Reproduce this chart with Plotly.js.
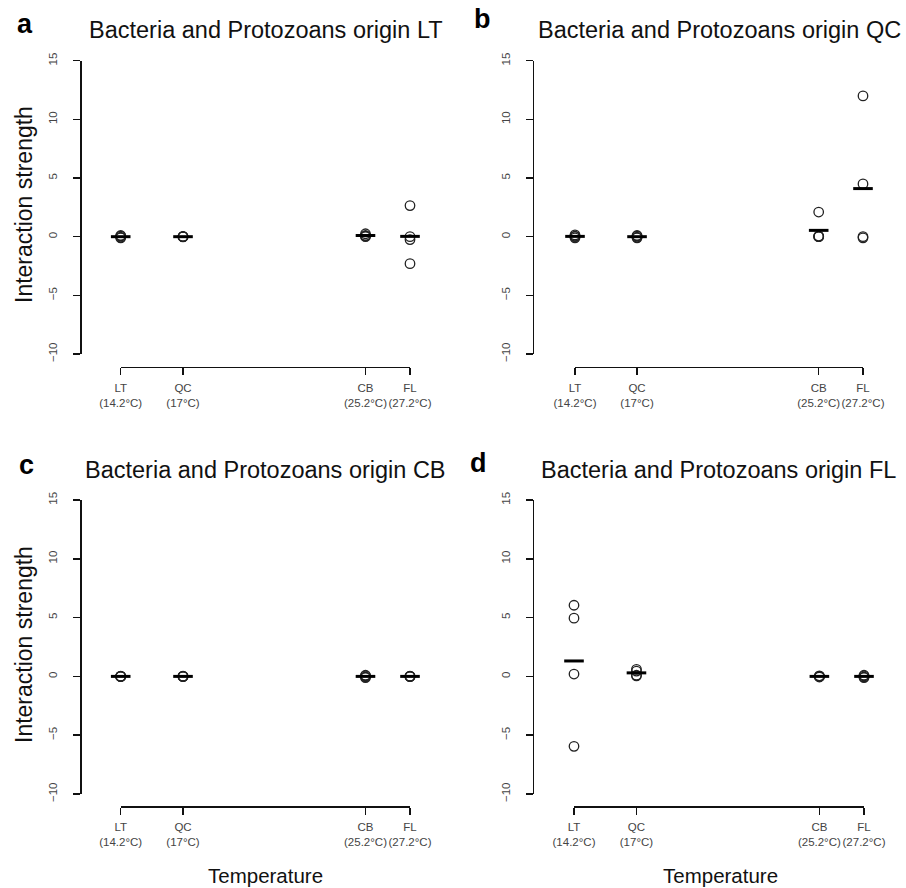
<!DOCTYPE html>
<html>
<head>
<meta charset="utf-8">
<script src="https://cdn.plot.ly/plotly-3.0.1.min.js"></script>
<style>html,body{margin:0;padding:0;background:#fff;}</style>
</head>
<body>
<div id="chart" style="width:906px;height:888px;"></div>
<script>
// Sites (x-axis categories) and their temperatures
const sites = ["LT", "QC", "CB", "FL"];
const temps = [14.2, 17, 25.2, 27.2];
const tickLabels = ["LT<br>(14.2°C)", "QC<br>(17°C)", "CB<br>(25.2°C)", "FL<br>(27.2°C)"];

// Interaction strength replicates per temperature (LT, QC, CB, FL), one array per panel
const originLT_LT = [0.05, -0.05, 0.1, -0.1];
const originLT_QC = [0.02, 0, -0.02, 0];
const originLT_CB = [0.25, 0.1, 0.0, 0.05];
const originLT_FL = [2.65, -0.25, 0.0, -2.3];

const originQC_LT = [0.15, 0.0, -0.1, 0.05];
const originQC_QC = [0.05, -0.05, 0.1, -0.1];
const originQC_CB = [2.1, 0.0, 0.05, 0.0];
const originQC_FL = [12.0, 4.5, 0.0, -0.1];

const originCB_LT = [0.02, 0, -0.02, 0];
const originCB_QC = [0.02, 0, -0.02, 0];
const originCB_CB = [0.05, -0.05, 0.1, -0.1];
const originCB_FL = [0.02, 0, -0.02, 0];

const originFL_LT = [6.05, 4.95, 0.2, -5.95];
const originFL_QC = [0.6, 0.45, 0.1, 0.05];
const originFL_CB = [0.0, -0.05, 0.05, 0.0];
const originFL_FL = [0.05, -0.05, 0.1, -0.1];

const panels = [
  {title: "Bacteria and Protozoans origin LT", data: [originLT_LT, originLT_QC, originLT_CB, originLT_FL]},
  {title: "Bacteria and Protozoans origin QC", data: [originQC_LT, originQC_QC, originQC_CB, originQC_FL]},
  {title: "Bacteria and Protozoans origin CB", data: [originCB_LT, originCB_QC, originCB_CB, originCB_FL]},
  {title: "Bacteria and Protozoans origin FL", data: [originFL_LT, originFL_QC, originFL_CB, originFL_FL]}
];

const W = 906, H = 888;
const px = v => v / W;
const py = v => 1 - v / H;

// geometry (pixels)
const geo = [
  {x0: 120.7, x1: 410, yTop: 60.7, yBot: 354, xLine: 366.7, yLine: 80},
  {x0: 575, x1: 863, yTop: 60.7, yBot: 354, xLine: 366.7, yLine: 532.7},
  {x0: 120.7, x1: 410, yTop: 500, yBot: 794, xLine: 806, yLine: 80},
  {x0: 574, x1: 864, yTop: 500, yBot: 794, xLine: 806, yLine: 532.7}
];

const traces = [];
const layout = {
  width: W, height: H,
  margin: {l: 0, r: 0, t: 0, b: 0},
  paper_bgcolor: "#fff", plot_bgcolor: "rgba(0,0,0,0)",
  showlegend: false,
  font: {family: "Liberation Sans, Arial, sans-serif", color: "#111"},
  annotations: []
};

panels.forEach((p, i) => {
  const n = i === 0 ? "" : String(i + 1);
  const xa = "x" + n, ya = "y" + n;
  const xs = [], ys = [], mx = [], my = [];
  p.data.forEach((vals, j) => {
    vals.forEach(v => { xs.push(temps[j]); ys.push(v); });
    mx.push(temps[j]);
    my.push(vals.reduce((a, b) => a + b, 0) / vals.length);
  });
  traces.push({
    type: "scatter", mode: "markers", x: xs, y: ys, xaxis: xa, yaxis: ya,
    cliponaxis: false, hoverinfo: "x+y",
    marker: {symbol: "circle-open", size: 9.5, color: "#222", line: {width: 1.3, color: "#222"}}
  });
  traces.push({
    type: "scatter", mode: "markers", x: mx, y: my, xaxis: xa, yaxis: ya,
    cliponaxis: false, hoverinfo: "x+y",
    marker: {symbol: "line-ew", size: 14, color: "#000", line: {width: 3, color: "#000"}}
  });
  const g = geo[i];
  layout["xaxis" + n] = {
    domain: [px(g.x0), px(g.x1)],
    range: [temps[0], temps[temps.length - 1]],
    anchor: "free", position: py(g.xLine),
    tickmode: "array", tickvals: temps, ticktext: tickLabels,
    showline: true, linecolor: "#111", linewidth: 1.5,
    ticks: "outside", ticklen: 7, tickwidth: 1.5, tickcolor: "#111",
    tickfont: {size: 11.5, color: "#444"}, tickangle: 0, ticklabelstandoff: 3,
    showgrid: false, zeroline: false, fixedrange: true
  };
  layout["yaxis" + n] = {
    domain: [py(g.yBot), py(g.yTop)],
    range: [-10, 15],
    anchor: "free", position: px(g.yLine),
    tickmode: "array", tickvals: [-10, -5, 0, 5, 10, 15], ticktext: ["\u221210", "\u22125", "0", "5", "10", "15"],
    showline: true, linecolor: "#111", linewidth: 1.5,
    ticks: "outside", ticklen: 7, tickwidth: 1.5, tickcolor: "#111",
    tickfont: {size: 11.5, color: "#444"}, tickangle: -90, ticklabelstandoff: 11,
    showgrid: false, zeroline: false, fixedrange: true
  };
});

// Panel titles
const titlePos = [[265.5, 30], [719.5, 30], [265, 470], [718, 470]];
panels.forEach((p, i) => {
  layout.annotations.push({
    xref: "paper", yref: "paper", x: px(titlePos[i][0]), y: py(titlePos[i][1]),
    xanchor: "center", yanchor: "middle", showarrow: false,
    text: p.title, font: {size: 23.5, color: "#111"}
  });
});
// Panel letters
const letters = [["a", 25, 24], ["b", 483, 19], ["c", 26, 465], ["d", 478, 463]];
letters.forEach(l => {
  layout.annotations.push({
    xref: "paper", yref: "paper", x: px(l[1]), y: py(l[2]),
    xanchor: "center", yanchor: "middle", showarrow: false,
    text: "<b>" + l[0] + "</b>", font: {size: 27, color: "#000"}
  });
});
// Axis titles
[[24, 205], [24, 645]].forEach(t => {
  layout.annotations.push({
    xref: "paper", yref: "paper", x: px(t[0]), y: py(t[1]),
    xanchor: "center", yanchor: "middle", showarrow: false, textangle: -90,
    text: "Interaction strength", font: {size: 23, color: "#111"}
  });
});
[[265, 875], [720.5, 875]].forEach(t => {
  layout.annotations.push({
    xref: "paper", yref: "paper", x: px(t[0]), y: py(t[1]),
    xanchor: "center", yanchor: "middle", showarrow: false,
    text: "Temperature", font: {size: 20.5, color: "#111"}
  });
});

Plotly.newPlot("chart", traces, layout, {displayModeBar: false, staticPlot: true});
</script>
</body>
</html>
